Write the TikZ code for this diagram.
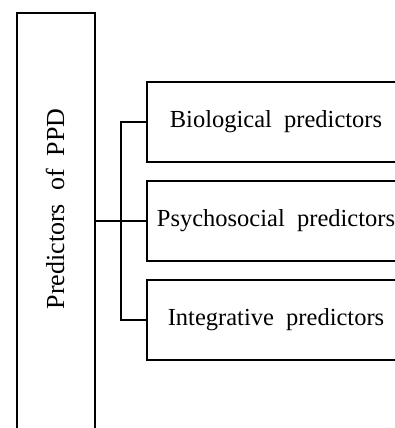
\documentclass[tikz,border=0pt]{standalone}
\usepackage{fontspec}
\setmainfont{Liberation Serif}
\begin{document}
\begin{tikzpicture}[x=1pt,y=-1pt,line width=1.1pt]
\tikzset{
  lbl/.style={font=\fontsize{24.5}{30}\selectfont},
  box/.style={draw, rectangle, minimum width=258pt, minimum height=80pt, inner sep=0pt, lbl},
  link/.style={line width=1.1pt},
}
\useasboundingbox (0,0) rectangle (395,428);
\clip (0,0) rectangle (395,428);
\node[draw, rectangle, minimum width=78pt, minimum height=430pt, inner sep=0pt] (main) at (56,228) {};
\node[lbl, font=\fontsize{26}{30}\selectfont, rotate=90] (mainlabel) at (55,209) {Predictors\hspace{.5em}of\hspace{.5em}PPD};
\node[box] (b1) at (276,122) {Biological\hspace{.5em}predictors};
\node[box] (b2) at (276,221) {Psychosocial\hspace{.5em}predictors};
\node[box] (b3) at (276,320) {Integrative\hspace{.5em}predictors};
\coordinate (j) at (121,221);
\draw[line width=1.7pt] (main.east |- j) -- (j);
\draw[link] (j) -- (b2.west);
\draw[link] (b1.west) -- (b1.west -| j) -- (b3.west -| j) -- (b3.west);
\end{tikzpicture}
\end{document}
